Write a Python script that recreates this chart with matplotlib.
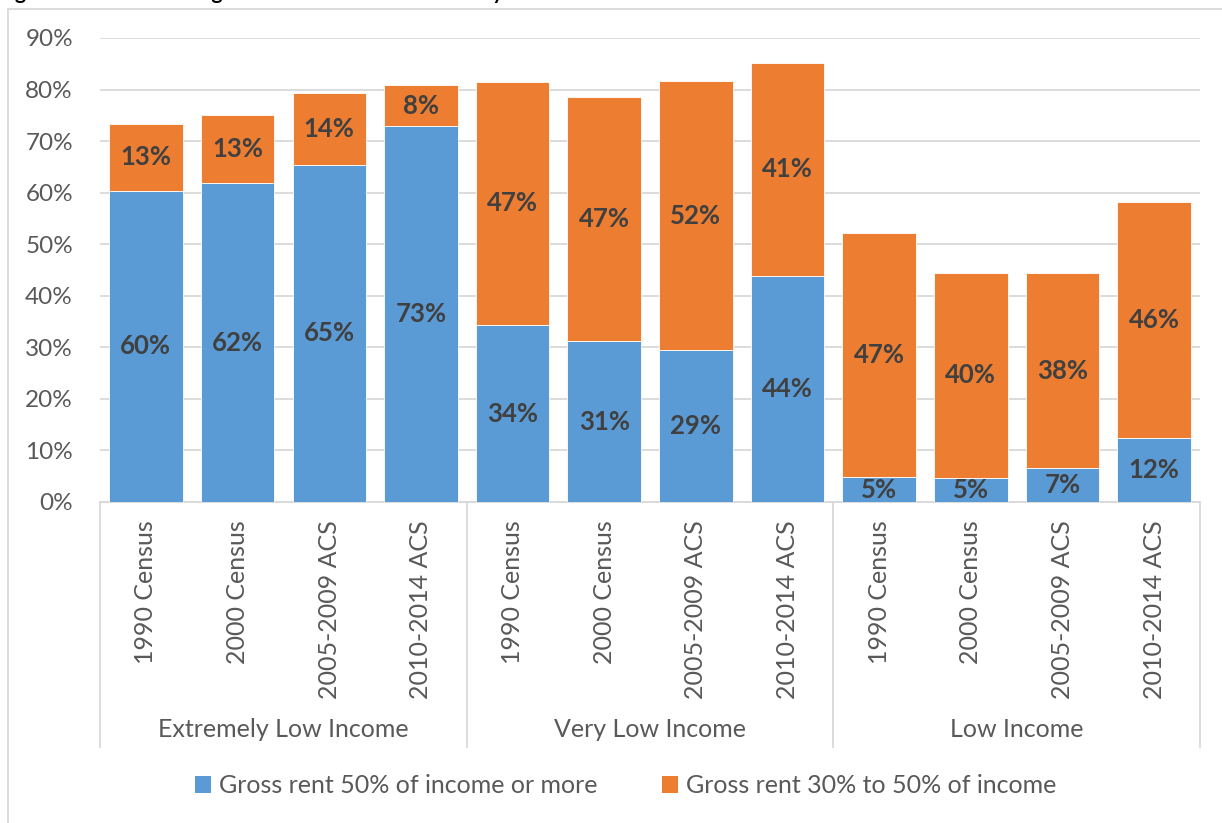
import matplotlib.pyplot as plt
from matplotlib.lines import Line2D
from matplotlib.patches import Patch, Rectangle
import matplotlib.transforms as mtrans

plt.rcParams['font.family'] = ['Lato', 'DejaVu Sans']

# Share of renters, by income group and survey
groups = ["Extremely Low Income", "Very Low Income", "Low Income"]
surveys = ["1990 Census", "2000 Census", "2005-2009 ACS", "2010-2014 ACS"]
severe = [60.4, 61.8, 65.4, 72.9,
          34.3, 31.2, 29.4, 43.8,
          4.8, 4.6, 6.6, 12.4]
moderate = [12.9, 13.3, 13.9, 8.0,
            47.2, 47.4, 52.2, 41.4,
            47.3, 39.9, 37.8, 45.7]
series_names = ["Gross rent 50% of income or more",
                "Gross rent 30% to 50% of income"]

blue = '#5B9BD5'
orange = '#ED7D31'
grey_txt = '#595959'
label_txt = '#404040'
line_c = '#D9D9D9'

fig = plt.figure(figsize=(12.22, 8.23), dpi=100)
W, H = 1222, 823
ax = fig.add_axes([100 / W, (H - 502) / H, 1100 / W, 464 / H])

# chart frame, and the title line above it running off the top edge
fig.patches.append(Rectangle((8 / W, -0.1), 1.2, (H - 9) / H + 0.1,
                             transform=fig.transFigure, fill=False,
                             edgecolor=line_c, linewidth=1.3))
fig.text(-2 / W, 1.0 + 1.5 / H, "Figure 5: Renters Facing Cost Burden in 1990-2014 by Income",
         fontsize=15, fontweight='bold', color='black', va='baseline')

x = list(range(len(severe)))
ax.bar(x, severe, width=0.8, color=blue, edgecolor='white', linewidth=0.6, zorder=3)
ax.bar(x, moderate, width=0.8, bottom=severe, color=orange,
       edgecolor='white', linewidth=0.6, zorder=3)

for i in x:
    ax.text(i, severe[i] / 2, f"{round(severe[i])}%", ha='center', va='center',
            fontsize=18.5, fontweight='bold', color=label_txt, zorder=4)
    ax.text(i, severe[i] + moderate[i] / 2, f"{round(moderate[i])}%", ha='center',
            va='center', fontsize=18.5, fontweight='bold', color=label_txt, zorder=4)

ax.set_xlim(-0.5, len(x) - 0.5)
ax.set_ylim(0, 90)
ax.set_yticks(range(0, 91, 10))
ax.set_yticklabels([f"{v}%" for v in range(0, 91, 10)])
ax.tick_params(axis='y', length=0, labelsize=17.5, labelcolor=grey_txt, pad=19.5)
ax.yaxis.grid(True, color=line_c, linewidth=1.3, zorder=0)
for side in ['left', 'right', 'top']:
    ax.spines[side].set_visible(False)
ax.spines['bottom'].set_color(line_c)
ax.spines['bottom'].set_linewidth(1.3)

ax.set_xticks(x)
ax.set_xticklabels(surveys * len(groups), rotation=90, va='top', ha='center')
ax.tick_params(axis='x', length=0, labelsize=18, labelcolor=grey_txt, pad=13)

# group labels and separators under the axis
trans = mtrans.blended_transform_factory(ax.transData, ax.transAxes)
for g, name in enumerate(groups):
    ax.text(g * 4 + 1.5, -0.491, name, transform=trans, ha='center', va='center',
            fontsize=18, color=grey_txt)
for b in range(len(groups) + 1):
    ax.add_line(Line2D([b * 4 - 0.5, b * 4 - 0.5], [0, -0.528], transform=trans,
                       color=line_c, linewidth=1.3, clip_on=False))

handles = [Patch(facecolor=blue), Patch(facecolor=orange)]
fig.legend(handles, series_names, loc='center', bbox_to_anchor=(0.512, 0.045),
           ncol=2, frameon=False, fontsize=18, labelcolor=grey_txt,
           handlelength=0.65, handleheight=0.65, handletextpad=0.3, columnspacing=2.6)

fig.savefig('out.png', dpi=100)
